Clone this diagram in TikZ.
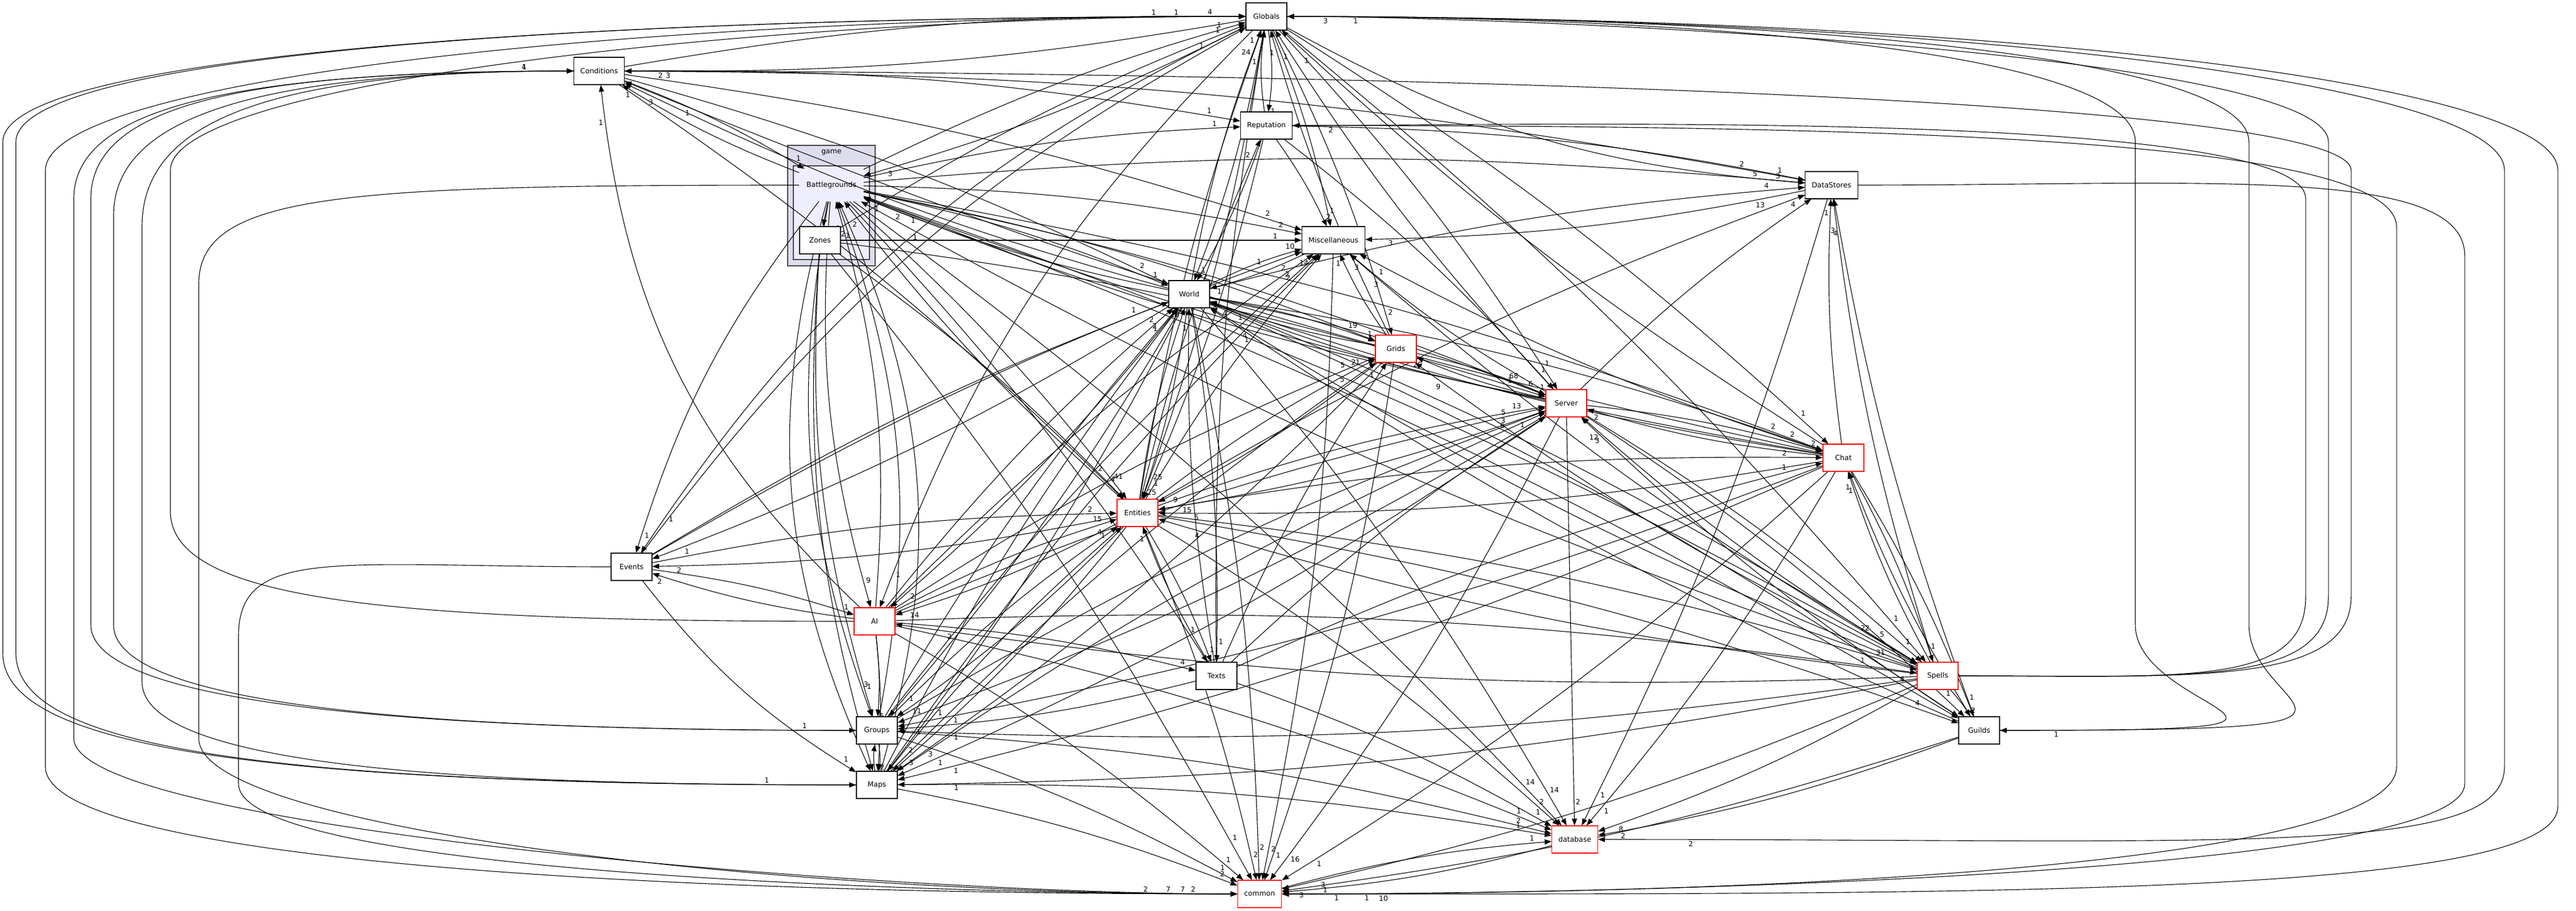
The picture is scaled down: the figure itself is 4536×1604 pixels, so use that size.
\documentclass[tikz,border=0pt]{standalone}
\usepackage{fontspec}
\setmainfont{DejaVu Sans}
\usetikzlibrary{arrows.meta}
\pgfdeclarelayer{bg}
\pgfdeclarelayer{edgelayer}
\pgfsetlayers{bg,edgelayer,main}
\newcommand\nf{\fontsize{3.125pt}{3.75pt}\selectfont}
% src, dst, X, y1, y2, label, distance
\newcommand\sideL[7]{\draw[e] (#1) to[out=180,in=90,out distance=#7,in distance=40pt] (#3,#4) -- (#3,#5) to[out=-90,in=180,out distance=40pt,in distance=#7] node[hl]{#6} (#2);}
\newcommand\sideLup[7]{\draw[e] (#1) to[out=180,in=-90,out distance=#7,in distance=40pt] (#3,#5) -- (#3,#4) to[out=90,in=180,out distance=40pt,in distance=#7] node[hl]{#6} (#2);}
\newcommand\sideR[7]{\draw[e] (#1) to[out=0,in=90,out distance=#7,in distance=40pt] (#3,#4) -- (#3,#5) to[out=-90,in=0,out distance=40pt,in distance=#7] node[hl]{#6} (#2);}
\newcommand\sideRup[7]{\draw[e] (#1) to[out=0,in=-90,out distance=#7,in distance=40pt] (#3,#5) -- (#3,#4) to[out=90,in=0,out distance=40pt,in distance=#7] node[hl]{#6} (#2);}
\begin{document}
\begin{tikzpicture}[x=0.25pt,y=0.25pt,
  dirn/.style={draw=black, line width=0.28pt, fill=white, minimum width=18pt, minimum height=12pt, inner xsep=2.875pt, inner ysep=0.5pt, font=\nf},
  dirr/.style={dirn, draw=red},
  e/.style={line width=0.28pt, -{Triangle[length=3pt,width=2.25pt]}},
  hl/.style={pos=0.95, auto, inner sep=0.6pt, font=\nf}]
\useasboundingbox (0,0) rectangle (4536,-1604);
% clusters
\begin{pgfonlayer}{bg}
  \fill[white] (0,0) rectangle (4536,-1604);
  \draw[fill={rgb,255:red,221;green,221;blue,238}, draw={rgb,255:red,68;green,68;blue,68}, line width=0.375pt] (1387,-256) rectangle (1541,-468);
  \draw[fill={rgb,255:red,238;green,238;blue,255}, draw={rgb,255:red,68;green,68;blue,68}, line width=0.375pt] (1397,-292) rectangle (1531,-457);
\end{pgfonlayer}
\node[font=\nf] (gamelbl) at (1464,-268) {game};
% nodes
\node[dirn] (G) at (2230,-29) {Globals};
\node[dirn] (C) at (1055,-125) {Conditions};
\node[dirn] (R) at (2230,-221) {Reputation};
\node[font=\nf, minimum width=28pt, minimum height=14pt, inner sep=0pt] (B) at (1464,-326) {Battlegrounds};
\node[dirn] (Z) at (1444,-423) {Zones};
\node[dirn] (DS) at (3225,-326) {DataStores};
\node[dirn] (M) at (2348,-423) {Miscellaneous};
\node[dirn] (W) at (2094,-518) {World};
\node[dirr] (Gr) at (2458,-614) {Grids};
\node[dirr] (S) at (2758,-710) {Server};
\node[dirr] (Ch) at (3246,-806) {Chat};
\node[dirr] (E) at (2003,-903) {Entities};
\node[dirn] (Ev) at (1112,-998) {Events};
\node[dirr] (AI) at (1540,-1094) {AI};
\node[dirn] (T) at (2142,-1190) {Texts};
\node[dirr] (Sp) at (3412,-1190) {Spells};
\node[dirn] (Go) at (1544,-1286) {Groups};
\node[dirn] (Gu) at (3485,-1286) {Guilds};
\node[dirn] (Ma) at (1544,-1382) {Maps};
\node[dirr] (db) at (2773,-1478) {database};
\node[dirr] (co) at (2218,-1574) {common};
% edges
\begin{pgfonlayer}{edgelayer}
\foreach \srcN/\dstN/\lblN/\bndN in {
G/R/1/8, R/G/1/8,
G/DS/3/-12, G/M/1/5, G/C/2/5, C/G/4/5, G/W/1/5, W/G/1/5, G/E/25/5, E/G/24/5, G/Gr/2/5, Gr/G/1/5, G/S/1/5, S/G/1/5, G/Ch/1/5, Ch/G/1/5, G/Sp/1/5, G/AI/1/-12, G/B/3/5, B/G/1/5, G/Ev/1/-15, Ev/G/1/12, Z/G/1/5, T/G/1/5,
B/C/1/5, Ch/C/1/5, AI/C/1/20, W/C/3/5, C/R/1/5, C/E/2/5, C/M/2/5, C/DS/2/5, C/W/2/5, C/B/1/5,
R/M/2/5, R/W/2/5, R/DS/1/5, R/E/1/5, R/S/1/5, E/R/2/5, B/R/1/5,
B/Z/13/0, B/M/2/5, B/W/1/5, B/E/41/5, E/B/2/5, B/S/68/5, S/B/2/5, B/Gr/19/5, B/Ch/2/5, Ch/B/1/5, B/DS/5/5, B/Sp/22/5, Sp/B/1/5, B/Go/3/-15, Go/B/2/-15, B/Ma/2/-20, Ma/B/1/-20, B/Gu/4/5, B/db/14/5, B/AI/9/-10, AI/B/1/-10, B/T/1/5, B/Ev/1/-10, W/B/1/5,
Z/M/1/0, Z/E/4/5, Z/co/1/5, Z/S/1/5, Z/Ma/1/-10, Z/Go/1/-10,
W/DS/4/5, E/DS/13/5, S/DS/4/5, Sp/DS/3/5, Ch/DS/1/5, Gu/DS/4/5, DS/M/3/5, DS/db/1/5,
W/M/10/5, M/W/1/5, E/M/14/5, Gr/M/1/5, S/M/3/5, Sp/M/3/5, Ch/M/1/5, AI/M/2/5, Go/M/2/5, Ma/M/2/5, Ev/M/1/5, M/co/2/5,
E/W/10/5, W/E/25/5, S/W/4/5, W/S/6/5, Gr/W/2/5, W/Gr/1/5, Ch/W/1/5, W/Ch/2/5, Sp/W/4/5, W/Sp/5/5, Gu/W/1/5, W/Gu/1/5, AI/W/2/5, W/AI/2/5, Go/W/2/5, W/Go/1/5, Ma/W/1/5, W/Ma/2/5, Ev/W/1/5, W/Ev/1/5, T/W/1/5, W/T/1/5, W/db/14/5, W/co/2/5,
Gr/E/9/5, E/Gr/21/5, Gr/S/1/5, S/Gr/20/5, Gr/Ma/3/5, Ma/Gr/5/5, Gr/co/1/5, AI/Gr/5/5, Sp/Gr/9/5,
E/S/13/5, S/E/15/5, AI/S/5/5, Go/S/3/5, S/Go/1/5, Ma/S/6/5, S/Ma/1/5, Ch/S/2/5, S/Ch/2/5, Sp/S/12/5, S/Sp/1/5, Gu/S/3/5, S/Gu/1/5, T/S/1/5, S/db/2/0, S/co/16/5,
E/Ch/2/5, Ch/E/5/5, Sp/Ch/1/5, Ch/Sp/1/5, Gu/Ch/1/5, Ch/Gu/1/5, Ch/Go/1/5, Ch/Ma/1/5, Ch/db/1/5, Ch/co/1/5,
Sp/E/4/5, E/Sp/31/5, AI/E/15/5, E/AI/14/5, Go/E/4/5, E/Go/11/5, Ma/E/1/5, E/Ma/3/5, Ev/E/2/5, E/Ev/2/5, T/E/1/5, E/T/1/5, E/Gu/4/5, E/db/2/5, E/co/2/5,
AI/Ev/2/5, Ev/AI/1/5, Ev/Ma/1/-10,
Sp/AI/2/5, AI/Sp/1/5, AI/Go/5/5, AI/Ma/2/5, AI/T/4/5, AI/db/1/5, AI/co/1/5,
T/Go/1/5, T/db/1/5, T/Gr/1/5, T/Ch/1/5,
Sp/Gu/2/5, Sp/Go/1/5, Sp/Ma/1/5, Sp/db/8/5, Sp/co/3/5,
Go/Ma/1/8, Ma/Go/3/8, Go/db/2/5, Go/co/1/5,
Gu/db/2/5, Gu/co/1/5,
Ma/db/1/5, Ma/co/2/5,
db/co/3/5, co/db/1/5}
{\draw[e] (\srcN) to[bend left=\bndN] node[hl]{\lblN} (\dstN);}
% routes round the left side
\sideL{G}{Ma}{5}{-250}{-1150}{1}{270pt}
\sideLup{Ma}{G}{28}{-250}{-1150}{1}{270pt}
\sideL{G}{co}{80}{-300}{-1350}{2}{270pt}
\sideL{C}{co}{130}{-350}{-1300}{7}{150pt}
\sideLup{Go}{C}{160}{-350}{-1100}{4}{150pt}
\sideL{C}{Go}{200}{-380}{-1100}{1}{150pt}
\sideLup{Ma}{C}{250}{-400}{-1200}{1}{150pt}
\sideLup{AI}{G}{300}{-300}{-900}{1}{200pt}
\sideL{B}{co}{350}{-500}{-1300}{7}{200pt}
\sideL{Ev}{co}{420}{-1120}{-1380}{2}{120pt}
% routes round the right side
\sideR{G}{Gu}{3760}{-250}{-1100}{1}{180pt}
\sideRup{Gu}{G}{3960}{-250}{-1100}{1}{200pt}
\sideRup{Sp}{R}{4060}{-350}{-1050}{2}{100pt}
\sideRup{Sp}{G}{4100}{-250}{-1050}{3}{100pt}
\sideRup{Sp}{C}{4140}{-300}{-1050}{3}{100pt}
\sideR{R}{co}{4220}{-400}{-1350}{1}{250pt}
\sideR{DS}{co}{4340}{-450}{-1380}{1}{150pt}
\sideR{G}{db}{4410}{-300}{-1350}{2}{280pt}
\sideR{G}{co}{4504}{-300}{-1420}{10}{300pt}
\end{pgfonlayer}
\end{tikzpicture}
\end{document}
